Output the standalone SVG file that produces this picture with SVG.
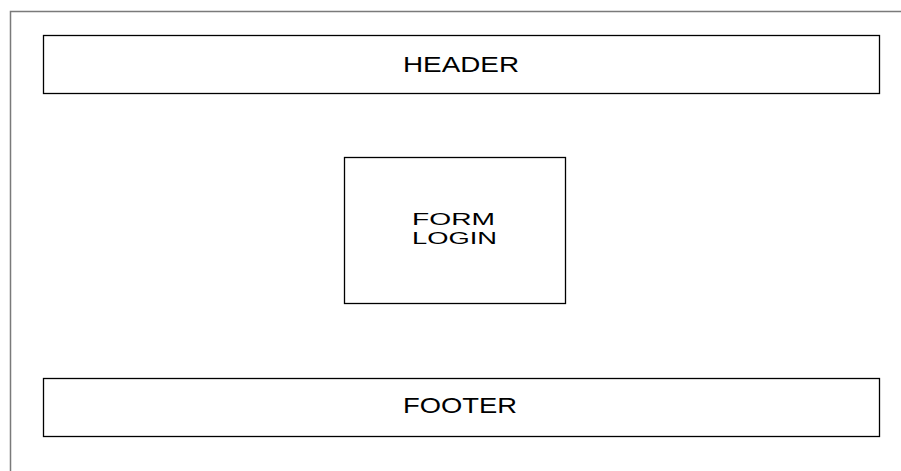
<svg xmlns="http://www.w3.org/2000/svg" width="901" height="471" viewBox="0 0 901 471">
<style>
.box{fill:#fff;stroke:#000;stroke-width:1.3}
.lbl{font-family:"Liberation Sans",Arial,sans-serif;fill:#000;text-anchor:start}
.frame{fill:none;stroke:#7a7a7a;stroke-width:1.5}
</style>
<rect width="901" height="471" fill="#fff"/>
<g id="frame"><path class="frame" d="M10.5,471 V11.5 H901"/></g>
<g id="header"><rect class="box" x="43.5" y="35.5" width="836" height="58"/>
<text class="lbl" x="403" y="72" font-size="22" textLength="116" lengthAdjust="spacingAndGlyphs">HEADER</text></g>
<g id="form-login"><rect class="box" x="344.5" y="157.5" width="221" height="146"/>
<text class="lbl" x="412" y="225" font-size="17" textLength="83" lengthAdjust="spacingAndGlyphs">FORM</text>
<text class="lbl" x="412" y="244" font-size="17" textLength="85" lengthAdjust="spacingAndGlyphs">LOGIN</text></g>
<g id="footer"><rect class="box" x="43.5" y="378.5" width="836" height="58"/>
<text class="lbl" x="403" y="413" font-size="22" textLength="114" lengthAdjust="spacingAndGlyphs">FOOTER</text></g>
<g id="connectors"></g>
</svg>
